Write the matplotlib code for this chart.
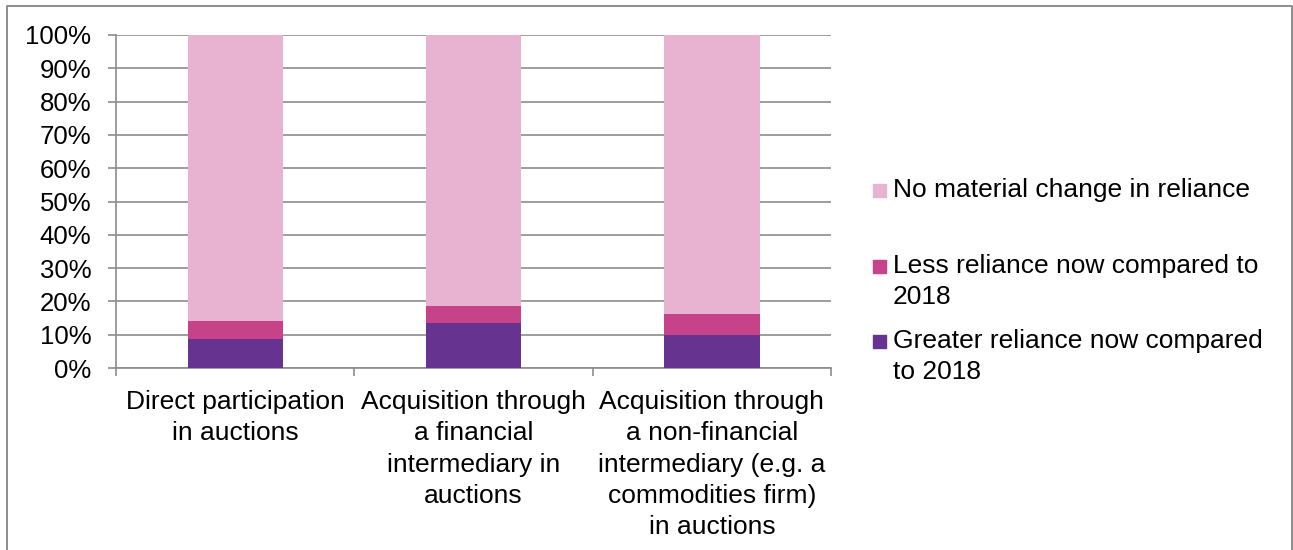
import matplotlib.pyplot as plt
import numpy as np
from matplotlib.patches import Rectangle
from matplotlib.lines import Line2D
from matplotlib.ticker import PercentFormatter, FixedLocator

## DADOS ##
categorias = ['Direct participation\nin auctions',
              'Acquisition through\na financial\nintermediary in\nauctions',
              'Acquisition through\na non-financial\nintermediary (e.g. a\ncommodities firm)\nin auctions']
maior = [8.6, 13.6, 9.8]      # Greater reliance now compared to 2018
menor = [5.6, 4.9, 6.3]       # Less reliance now compared to 2018
sem_mudanca = [85.8, 81.5, 83.9]  # No material change in reliance
series = [
    ('Greater reliance now compared\nto 2018', maior, '#673391'),
    ('Less reliance now compared to\n2018', menor, '#C64289'),
    ('No material change in reliance', sem_mudanca, '#E8B3D0'),
]

plt.rcParams['font.family'] = ['Liberation Sans', 'DejaVu Sans']
fs = 19
cinza = '#8C8C8C'

W, H = 1293, 550
fig = plt.figure(figsize=(12.93, 5.5), dpi=100)
ax = fig.add_axes([116/W, 1-368/H, (831-116)/W, (368-35)/H])

x = np.arange(len(categorias))
base = np.zeros(len(categorias))
for nome, vals, cor in series:
    ax.bar(x, vals, width=0.4, bottom=base, color=cor, zorder=3)
    base = base + np.array(vals)

ax.set_xlim(-0.5, len(categorias)-0.5)
ax.set_ylim(0, 100)
ax.set_yticks(np.arange(0, 101, 10))
ax.yaxis.set_major_formatter(PercentFormatter(decimals=0))
ax.yaxis.grid(True, color=cinza, linewidth=1.2, zorder=0)

ax.set_xticks(x)
ax.set_xticklabels(categorias, fontsize=fs, linespacing=1.38)
ax.xaxis.set_minor_locator(FixedLocator(np.arange(-0.5, len(categorias), 1)))
ax.tick_params(axis='x', which='major', length=0, pad=16)
ax.tick_params(axis='x', which='minor', length=5.8, width=1.2, color=cinza)
ax.tick_params(axis='y', length=5.8, width=1.2, color=cinza, labelsize=18.5, pad=12)

for lado in ['top', 'right']:
    ax.spines[lado].set_visible(False)
for lado in ['left', 'bottom']:
    ax.spines[lado].set_color(cinza)
    ax.spines[lado].set_linewidth(1.2)

# legenda manual (ordem invertida como no Excel)
for i, (nome, vals, cor) in enumerate(series[::-1]):
    yb = 197 + i*75.5
    fig.patches.append(Rectangle((873/W, 1-yb/H), 13/W, 13/H, color=cor,
                                 transform=fig.transFigure, figure=fig))
    for j, linha in enumerate(nome.split('\n')):
        fig.text(893/W, 1-(yb + j*31)/H, linha, fontsize=fs, va='baseline', ha='left')

# borda externa (sem linha embaixo, cortada na imagem original)
borda = Line2D([7/W, 7/W, 1291.5/W, 1291.5/W], [0, 1-5.5/H, 1-5.5/H, 0],
               color=cinza, linewidth=1.4, transform=fig.transFigure)
fig.lines.append(borda)

fig.savefig('out.png', dpi=100)
